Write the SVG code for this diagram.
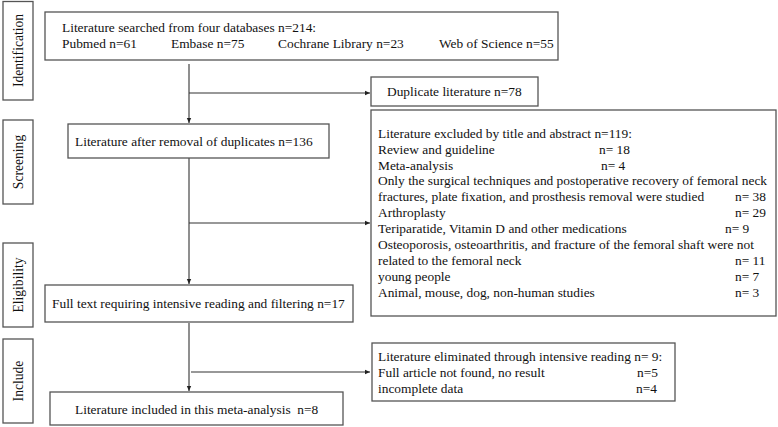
<svg xmlns="http://www.w3.org/2000/svg" width="778" height="427" viewBox="0 0 778 427">
<defs>
<style>
.box{fill:#fff;stroke:#555;stroke-width:1.3}
.t{font-family:"Liberation Serif","Times New Roman",serif;font-size:13.4px;fill:#111}
.lbl{font-family:"Liberation Serif","Times New Roman",serif;font-size:13.6px;fill:#111;text-anchor:middle}
.ln{stroke:#333;stroke-width:1.1;fill:none}
</style>
<marker id="ah" markerWidth="6" markerHeight="6" refX="5" refY="3" orient="auto" markerUnits="userSpaceOnUse">
<path d="M0,0.8 L5,3 L0,5.2 z" fill="#222"/>
</marker>
</defs>
<rect width="778" height="427" fill="#fff"/>
<g id="stage-identification">
<rect class="box" x="3" y="1.5" width="30" height="98.5"/>
<text class="lbl" transform="translate(22.5,50.5) rotate(-90)">Identification</text>
</g>
<g id="stage-screening">
<rect class="box" x="3" y="120" width="30" height="84"/>
<text class="lbl" transform="translate(22.5,162) rotate(-90)">Screening</text>
</g>
<g id="stage-eligibility">
<rect class="box" x="3" y="243" width="30" height="84"/>
<text class="lbl" transform="translate(22.5,285) rotate(-90)">Eligibility</text>
</g>
<g id="stage-include">
<rect class="box" x="3" y="339" width="30" height="84"/>
<text class="lbl" transform="translate(22.5,381) rotate(-90)">Include</text>
</g>
<g id="connectors">
<line class="ln" x1="189" y1="64" x2="189" y2="123" marker-end="url(#ah)"/>
<line class="ln" x1="189" y1="93" x2="370" y2="93" marker-end="url(#ah)"/>
<line class="ln" x1="189" y1="158" x2="189" y2="284" marker-end="url(#ah)"/>
<line class="ln" x1="189" y1="223" x2="370" y2="223" marker-end="url(#ah)"/>
<line class="ln" x1="189" y1="323" x2="189" y2="391" marker-end="url(#ah)"/>
<line class="ln" x1="191" y1="372" x2="370" y2="372" marker-end="url(#ah)"/>
</g>
<g id="n-searched">
<rect class="box" x="45" y="12" width="513" height="48"/>
<text class="t" x="62" y="32">Literature searched from four databases n=214:</text>
<text class="t" x="62" y="48">Pubmed n=61</text>
<text class="t" x="171" y="48">Embase n=75</text>
<text class="t" x="278" y="48">Cochrane Library n=23</text>
<text class="t" x="439" y="48">Web of Science n=55</text>
</g>
<g id="n-duplicate">
<rect class="box" x="371" y="77" width="167" height="29"/>
<text class="t" x="387" y="96">Duplicate literature n=78</text>
</g>
<g id="n-after-removal">
<rect class="box" x="68" y="124" width="261" height="34"/>
<text class="t" x="75" y="146">Literature after removal of duplicates n=136</text>
</g>
<g id="n-excluded-title">
<rect class="box" x="371" y="110" width="405" height="206"/>
<text class="t" x="378" y="138">Literature excluded by title and abstract n=119:</text>
<text class="t" x="378" y="154">Review and guideline</text>
<text class="t" x="599" y="154">n= 18</text>
<text class="t" x="378" y="170">Meta-analysis</text>
<text class="t" x="601" y="170">n= 4</text>
<text class="t" x="378" y="185">Only the surgical techniques and postoperative recovery of femoral neck</text>
<text class="t" x="378" y="201">fractures, plate fixation, and prosthesis removal were studied</text>
<text class="t" x="735" y="201">n= 38</text>
<text class="t" x="378" y="217">Arthroplasty</text>
<text class="t" x="735" y="217">n= 29</text>
<text class="t" x="378" y="233">Teriparatide, Vitamin D and other medications</text>
<text class="t" x="725" y="233">n= 9</text>
<text class="t" x="378" y="249">Osteoporosis, osteoarthritis, and fracture of the femoral shaft were not</text>
<text class="t" x="378" y="265">related to the femoral neck</text>
<text class="t" x="735" y="265">n= 11</text>
<text class="t" x="378" y="281">young people</text>
<text class="t" x="735" y="281">n= 7</text>
<text class="t" x="378" y="297">Animal, mouse, dog, non-human studies</text>
<text class="t" x="735" y="297">n= 3</text>
</g>
<g id="n-full-text">
<rect class="box" x="45" y="285" width="308" height="37"/>
<text class="t" x="52" y="308">Full text requiring intensive reading and filtering n=17</text>
</g>
<g id="n-eliminated">
<rect class="box" x="372" y="343" width="303" height="58"/>
<text class="t" x="378" y="361">Literature eliminated through intensive reading  n= 9:</text>
<text class="t" x="378" y="377">Full article not found, no result</text>
<text class="t" x="637" y="377">n=5</text>
<text class="t" x="378" y="393">incomplete data</text>
<text class="t" x="636" y="393">n=4</text>
</g>
<g id="n-included">
<rect class="box" x="50" y="392" width="293" height="33"/>
<text class="t" x="75" y="414" xml:space="preserve">Literature included in this meta-analysis  n=8</text>
</g>
</svg>
